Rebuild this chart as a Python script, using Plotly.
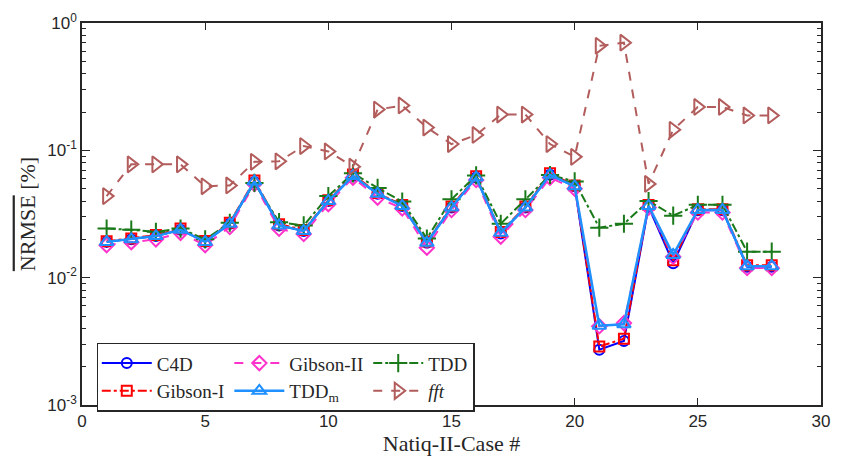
import plotly.graph_objects as go

cases = list(range(1, 29))

c4d = [0.0191, 0.0200, 0.0212, 0.0238, 0.0191, 0.0265, 0.0565, 0.0257, 0.0233, 0.0400,
       0.0630, 0.0456, 0.0366, 0.0188, 0.0356, 0.0612, 0.0222, 0.0356, 0.0642, 0.0522,
       0.00272, 0.00318, 0.0360, 0.0130, 0.0338, 0.0338, 0.0122, 0.0122]
gibson1 = [0.0193, 0.0203, 0.0216, 0.0243, 0.0194, 0.0270, 0.0580, 0.0263, 0.0237, 0.0405,
           0.0645, 0.0462, 0.0372, 0.0192, 0.0362, 0.0625, 0.0228, 0.0362, 0.0660, 0.0530,
           0.00288, 0.00332, 0.0372, 0.0137, 0.0345, 0.0345, 0.0125, 0.0125]
gibson2 = [0.0180, 0.0190, 0.0200, 0.0225, 0.0180, 0.0250, 0.0545, 0.0242, 0.0220, 0.0378,
           0.0610, 0.0425, 0.0350, 0.0172, 0.0340, 0.0585, 0.0210, 0.0340, 0.0610, 0.0500,
           0.00415, 0.00440, 0.0355, 0.0146, 0.0325, 0.0325, 0.0119, 0.0119]
tdd = [0.0243, 0.0238, 0.0229, 0.0243, 0.0200, 0.0270, 0.0555, 0.0273, 0.0257, 0.0437,
       0.0660, 0.0507, 0.0396, 0.0203, 0.0412, 0.0635, 0.0265, 0.0412, 0.0640, 0.0570,
       0.0247, 0.0265, 0.0400, 0.0307, 0.0373, 0.0373, 0.0160, 0.0160]
tddm = [0.0191, 0.0200, 0.0212, 0.0238, 0.0191, 0.0265, 0.0570, 0.0257, 0.0233, 0.0400,
        0.0630, 0.0456, 0.0366, 0.0188, 0.0356, 0.0612, 0.0225, 0.0356, 0.0642, 0.0522,
        0.00420, 0.00430, 0.0366, 0.0151, 0.0340, 0.0340, 0.0123, 0.0123]
fft = [0.0437, 0.0776, 0.0776, 0.0776, 0.0522, 0.0530, 0.0813, 0.0820, 0.1080, 0.0980,
       0.0744, 0.2090, 0.2250, 0.1510, 0.1120, 0.1320, 0.1910, 0.1910, 0.1120, 0.0889,
       0.6620, 0.7000, 0.0545, 0.1450, 0.2190, 0.2190, 0.1880, 0.1880]

xticks = [0, 5, 10, 15, 20, 25, 30]
yticks = [0.001, 0.01, 0.1, 1]
yticktext = ["10<sup>-3</sup>", "10<sup>-2</sup>", "10<sup>-1</sup>", "10<sup>0</sup>"]

series = [
    ("C4D", c4d, "g1", "#0000ff", "solid", "circle-open", 10, 2),
    ("Gibson-I", gibson1, "g1", "#ff0000", "dashdot", "square-open", 10, 2),
    ("Gibson-II", gibson2, "g2", "#ff33cc", "dash", "diamond-open", 11, 2),
    ("TDD", tdd, "g3", "#1a7a1a", "dashdot", "cross-thin-open", 13, 2),
    ("TDD<sub>m</sub>", tddm, "g2", "#1e90ff", "solid", "triangle-up-open", 12, 2.5),
    ("<i>fft</i>", fft, "g3", "#b35c5c", "dash", "triangle-right-open", 14, 2),
]

fig = go.Figure()
for name, vals, grp, col, dash, sym, msize, lw in series:
    fig.add_trace(go.Scatter(
        x=cases, y=vals, name=name, legendgroup=grp, mode="lines+markers",
        line=dict(color=col, dash=dash, width=lw),
        marker=dict(symbol=sym, size=msize, color=col,
                    line=dict(color=col, width=2)),
    ))

serif = "Liberation Serif"
axis_font = dict(family="Liberation Sans", size=17, color="#262626")
title_font = dict(family=serif, size=22, color="#262626")

fig.update_layout(
    width=841, height=463,
    margin=dict(l=82, r=11, t=15, b=58),
    plot_bgcolor="white", paper_bgcolor="white",
    showlegend=True,
    legend=dict(
        orientation="h", traceorder="grouped",
        x=0.02, xanchor="left", y=0.163, yanchor="top",
        bgcolor="white", bordercolor="#262626", borderwidth=1.5,
        font=dict(family=serif, size=19, color="#262626"),
        tracegroupgap=6, itemwidth=50,
    ),
    xaxis=dict(
        range=[0, 30], tickvals=xticks, ticks="inside", ticklen=7, tickwidth=1.2,
        tickcolor="#262626", showline=True, linecolor="#262626", linewidth=1.5,
        mirror="ticks", showgrid=False, zeroline=False, tickfont=axis_font,
        title=dict(text="Natiq-II-Case #", font=title_font, standoff=4),
    ),
    yaxis=dict(
        type="log", range=[-3, 0], tickvals=yticks, ticktext=yticktext,
        ticks="inside", ticklen=8, tickwidth=1.2, tickcolor="#262626",
        showline=True, linecolor="#262626", linewidth=1.5, mirror="ticks",
        showgrid=False, zeroline=False, tickfont=axis_font,
        minor=dict(ticks="inside", ticklen=4, tickwidth=1.2, tickcolor="#262626",
                   dtick="D1", showgrid=False),
        title=dict(text="<span style=\"text-decoration:overline\">NRMSE</span> [%]",
                   font=title_font, standoff=6),
    ),
)

fig.write_html("out.html")
